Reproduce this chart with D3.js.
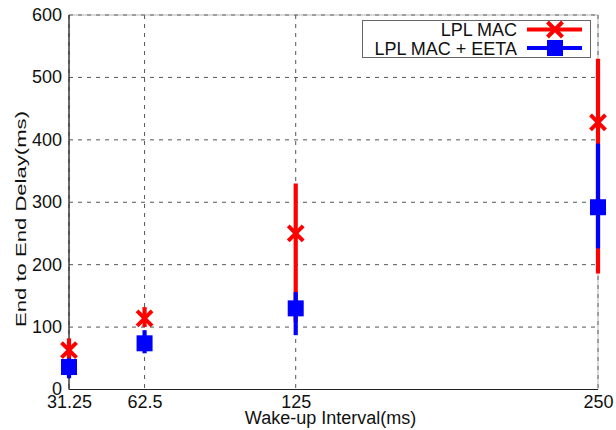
<!DOCTYPE html>
<html><head><meta charset="utf-8">
<script src="https://cdn.jsdelivr.net/npm/d3@7"></script>
<style>body{margin:0;background:#fff}svg{display:block}text{font-family:"Liberation Sans",Arial,sans-serif}</style>
</head><body>
<svg id="c" width="616" height="430"></svg>
<script>
const xTicks = [31.25, 62.5, 125, 250];
const xTickLabels = ["31.25", "62.5", "125", "250"];
const yTicks = [0, 100, 200, 300, 400, 500, 600];
const seriesNames = ["LPL MAC", "LPL MAC + EETA"];
const lplMean = [63, 114, 250, 428];
const lplLow  = [48, 100, 108, 186];
const lplHigh = [82, 132, 330, 530];
const eetaMean = [36, 74, 130, 292];
const eetaLow  = [18, 58, 87, 226];
const eetaHigh = [50, 95, 156, 394];

const svg = d3.select("#c");
const m = {l:69, r:598, t:15, b:389.5};
const x = d3.scaleLinear().domain([31.25, 250]).range([m.l, m.r]);
const y = d3.scaleLinear().domain([0, 600]).range([m.b, m.t]);

// grid
const g = svg.append("g");
g.selectAll(".gy").data(yTicks).join("line")
  .attr("x1", m.l).attr("x2", m.r).attr("y1", d=>y(d)).attr("y2", d=>y(d))
  .attr("stroke", "#555").attr("stroke-width", 1).attr("stroke-dasharray", "4,5");
g.selectAll(".gx").data(xTicks).join("line")
  .attr("y1", m.t).attr("y2", m.b).attr("x1", d=>x(d)).attr("x2", d=>x(d))
  .attr("stroke", "#555").attr("stroke-width", 1).attr("stroke-dasharray", "4,5");
// box
svg.append("rect").attr("x", m.l).attr("y", m.t).attr("width", m.r-m.l).attr("height", m.b-m.t)
  .attr("fill","none").attr("stroke","#888").attr("stroke-width",0.6);
svg.append("line").attr("x1",m.l).attr("x2",m.l).attr("y1",m.t).attr("y2",m.b).attr("stroke","#222").attr("stroke-width",1.2);
svg.append("line").attr("x1",m.l).attr("x2",m.r).attr("y1",m.b).attr("y2",m.b).attr("stroke","#222").attr("stroke-width",1.2);

// axes
const xAxis = d3.axisBottom(x).tickValues(xTicks).tickFormat((d,i)=>xTickLabels[i]).tickSize(0).tickPadding(6);
const yAxis = d3.axisLeft(y).tickValues(yTicks).tickSize(0).tickPadding(7);
const xa = svg.append("g").attr("transform",`translate(0,${m.b})`).call(xAxis);
const ya = svg.append("g").attr("transform",`translate(${m.l},0)`).call(yAxis);
[xa, ya].forEach(a=>{a.select(".domain").remove(); a.selectAll("text").attr("font-size",18).attr("fill","#111").style("font-family","'Liberation Sans',Arial,sans-serif");});
ya.selectAll("text").attr("dy","0.3em");

svg.append("text").attr("x", 330.5).attr("y", 424).attr("text-anchor","middle")
  .attr("font-size",18).attr("fill","#111").text("Wake-up Interval(ms)");
svg.append("text").attr("transform",`translate(26,219) rotate(-90)`).attr("text-anchor","middle")
  .attr("font-size",15.5).attr("fill","#111")
  .attr("textLength",216).attr("lengthAdjust","spacingAndGlyphs").text("End to End Delay(ms)");

// data
const red = "#ff0000", blue = "#0000ff";
const lpl = xTicks.map((d,i)=>({x:d, m:lplMean[i], lo:lplLow[i], hi:lplHigh[i]}));
const eeta = xTicks.map((d,i)=>({x:d, m:eetaMean[i], lo:eetaLow[i], hi:eetaHigh[i]}));

svg.append("g").selectAll("line").data(lpl).join("line")
  .attr("x1",d=>x(d.x)).attr("x2",d=>x(d.x)).attr("y1",d=>y(d.lo)).attr("y2",d=>y(d.hi))
  .attr("stroke",red).attr("stroke-width",4.2);
svg.append("g").selectAll("line").data(eeta).join("line")
  .attr("x1",d=>x(d.x)).attr("x2",d=>x(d.x)).attr("y1",d=>y(d.lo)).attr("y2",d=>y(d.hi))
  .attr("stroke",blue).attr("stroke-width",4.2);

function cross(sel, cx, cy, s){
  sel.append("path").attr("d",`M${cx-s},${cy-s}L${cx+s},${cy+s}M${cx-s},${cy+s}L${cx+s},${cy-s}`)
    .attr("stroke",red).attr("stroke-width",4).attr("fill","none");
}
const mk = svg.append("g");
lpl.forEach(d=>cross(mk, x(d.x), y(d.m), 7.5));
svg.append("g").selectAll("rect").data(eeta).join("rect")
  .attr("x",d=>x(d.x)-8).attr("y",d=>y(d.m)-8).attr("width",16).attr("height",16).attr("fill",blue);

// legend
const lg = svg.append("g");
lg.append("rect").attr("x",362.5).attr("y",20.5).attr("width",228).attr("height",37)
  .attr("fill","#fff").attr("stroke","#666").attr("stroke-width",1);
const ly = [29.5, 48];
seriesNames.forEach((n,i)=>{
  lg.append("text").attr("x",517).attr("y",ly[i]+6.5).attr("text-anchor","end").attr("font-size",18).attr("fill","#111").text(n);
  lg.append("line").attr("x1",527).attr("x2",582).attr("y1",ly[i]).attr("y2",ly[i]).attr("stroke",i?blue:red).attr("stroke-width",4);
});
cross(lg, 555, ly[0], 7.5);
lg.append("rect").attr("x",547).attr("y",ly[1]-8).attr("width",16).attr("height",16).attr("fill",blue);
</script>
</body></html>
